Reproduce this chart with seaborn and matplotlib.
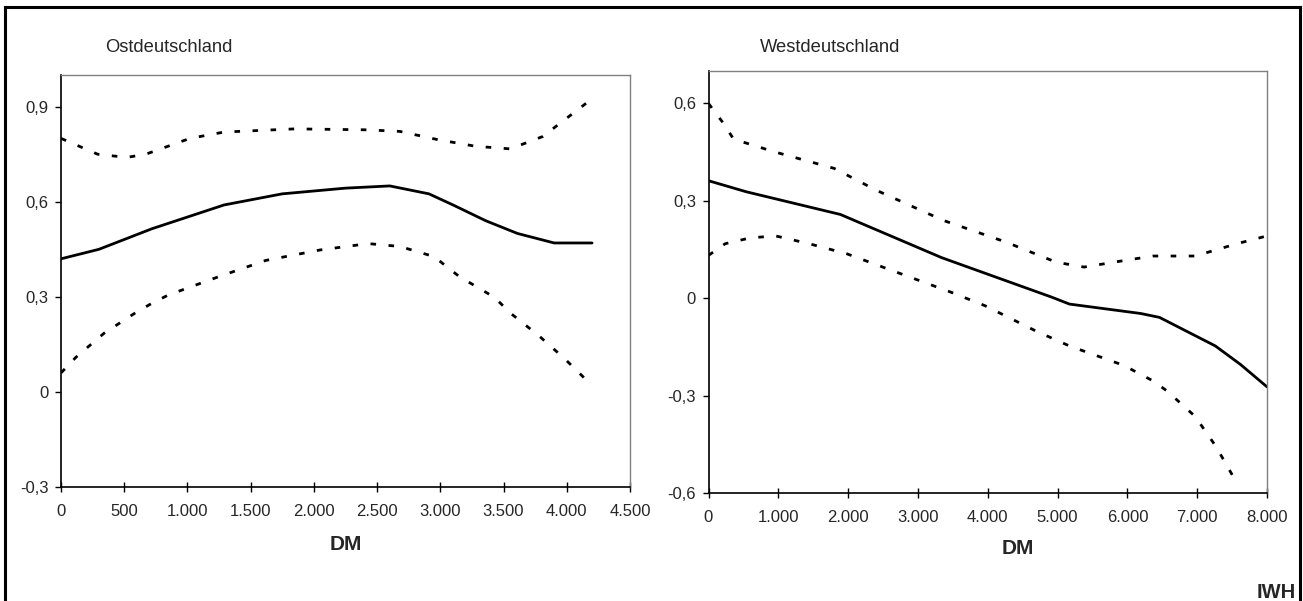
import pandas as pd
import matplotlib
matplotlib.use("Agg")
import matplotlib.pyplot as plt
from matplotlib.lines import Line2D
import seaborn as sns

# Ostdeutschland: estimate and confidence band
ost_x_mid = [0, 300, 720, 1290, 1750, 2250, 2600, 2910, 3100, 3360, 3610, 3900, 4200]
ost_mid = [0.42, 0.45, 0.515, 0.59, 0.625, 0.643, 0.65, 0.625, 0.59, 0.54, 0.50, 0.47, 0.47]
ost_x_up = [0, 290, 520, 670, 1020, 1290, 1850, 2420, 2680, 2980, 3280, 3550, 3660, 3810, 4000, 4200]
ost_up = [0.80, 0.75, 0.74, 0.75, 0.80, 0.82, 0.83, 0.827, 0.822, 0.796, 0.775, 0.767, 0.783, 0.806, 0.864, 0.925]
ost_x_lo = [0, 120, 340, 590, 720, 850, 1250, 1620, 2050, 2430, 2680, 2950, 3150, 3430, 3550, 3780, 3980, 4200]
ost_lo = [0.06, 0.11, 0.185, 0.25, 0.28, 0.306, 0.364, 0.415, 0.448, 0.468, 0.459, 0.427, 0.364, 0.298, 0.25, 0.177, 0.106, 0.02]

# Westdeutschland: estimate and confidence band
west_x_mid = [0, 540, 1890, 3340, 4920, 5170, 6190, 6460, 7260, 7620, 8000]
west_mid = [0.362, 0.328, 0.258, 0.125, 0.003, -0.018, -0.047, -0.059, -0.147, -0.204, -0.273]
west_x_up = [0, 210, 360, 960, 1800, 2400, 3360, 4260, 4980, 5380, 5950, 6370, 6970, 7570, 8000]
west_up = [0.60, 0.54, 0.49, 0.45, 0.40, 0.333, 0.24, 0.173, 0.111, 0.096, 0.116, 0.13, 0.13, 0.168, 0.192]
west_x_lo = [0, 240, 600, 960, 1440, 1980, 2760, 3480, 3960, 4690, 5170, 5950, 6370, 6570, 6970, 7270, 7570]
west_lo = [0.132, 0.168, 0.186, 0.192, 0.168, 0.137, 0.075, 0.018, -0.023, -0.101, -0.147, -0.207, -0.255, -0.286, -0.364, -0.457, -0.57]

# axis ticks and labels
ost_xticks = [0, 500, 1000, 1500, 2000, 2500, 3000, 3500, 4000, 4500]
ost_xlabels = ["0", "500", "1.000", "1.500", "2.000", "2.500", "3.000", "3.500", "4.000", "4.500"]
ost_yticks = [-0.3, 0, 0.3, 0.6, 0.9]
ost_ylabels = ["-0,3", "0", "0,3", "0,6", "0,9"]
west_xticks = [0, 1000, 2000, 3000, 4000, 5000, 6000, 7000, 8000]
west_xlabels = ["0", "1.000", "2.000", "3.000", "4.000", "5.000", "6.000", "7.000", "8.000"]
west_yticks = [-0.6, -0.3, 0, 0.3, 0.6]
west_ylabels = ["-0,6", "-0,3", "0", "0,3", "0,6"]

sns.set_style("white")
plt.rcParams["font.family"] = ["Liberation Sans", "DejaVu Sans"]

W, H = 1303, 601
fig = plt.figure(figsize=(W / 100, H / 100), dpi=100)


def px_axes(x0, y0, x1, y1):
    return fig.add_axes([x0 / W, 1 - y1 / H, (x1 - x0) / W, (y1 - y0) / H])


def draw_panel(ax, mid, up, lo, xlim, ylim, xticks, xlabels, yticks, ylabels):
    dotted = (0, (2, 4.5))
    sns.lineplot(x=mid[0], y=mid[1], ax=ax, color="black", lw=2.0, sort=False, errorbar=None)
    sns.lineplot(x=up[0], y=up[1], ax=ax, color="black", lw=2.0, linestyle=dotted, sort=False, errorbar=None)
    sns.lineplot(x=lo[0], y=lo[1], ax=ax, color="black", lw=2.0, linestyle=dotted, sort=False, errorbar=None)
    ax.set_xlim(*xlim)
    ax.set_ylim(*ylim)
    ax.set_xticks(xticks)
    ax.set_xticklabels(xlabels)
    ax.set_yticks(yticks)
    ax.set_yticklabels(ylabels)
    ax.set_xlabel("")
    ax.set_ylabel("")
    for side in ["left", "bottom"]:
        ax.spines[side].set_color("black")
        ax.spines[side].set_linewidth(1.2)
    for side in ["top", "right"]:
        ax.spines[side].set_color("#808080")
        ax.spines[side].set_linewidth(1.0)
    ax.tick_params(axis="x", direction="inout", length=7, width=1, color="black",
                   labelsize=12, pad=9, bottom=True)
    ax.tick_params(axis="y", direction="out", length=4, width=1, color="black",
                   labelsize=12, pad=5, left=True)


ax1 = px_axes(61, 75, 630, 487)
draw_panel(ax1, (ost_x_mid, ost_mid), (ost_x_up, ost_up), (ost_x_lo, ost_lo),
           (0, 4500), (-0.3, 1.0), ost_xticks, ost_xlabels, ost_yticks, ost_ylabels)

ax2 = px_axes(708.5, 71, 1267, 493)
draw_panel(ax2, (west_x_mid, west_mid), (west_x_up, west_up), (west_x_lo, west_lo),
           (0, 8000), (-0.6, 0.7), west_xticks, west_xlabels, west_yticks, west_ylabels)

# titles and axis captions
fig.text(105 / W, 1 - 47 / H, "Ostdeutschland", fontsize=13.2, ha="left", va="center")
fig.text(760 / W, 1 - 48 / H, "Westdeutschland", fontsize=13.2, ha="left", va="center")
fig.text(346 / W, 1 - 544 / H, "DM", fontsize=15, fontweight="bold", ha="center", va="center")
fig.text(1018 / W, 1 - 548 / H, "DM", fontsize=15, fontweight="bold", ha="center", va="center")
fig.text(1296 / W, 1 - 592 / H, "IWH", fontsize=14.5, fontweight="bold", ha="right", va="center")

# outer frame, open at the bottom
fx0, fx1, fy = 5 / W, 1300 / W, 1 - 7 / H
for xs, ys in [([fx0, fx0], [0, fy]), ([fx0, fx1], [fy, fy]), ([fx1, fx1], [fy, 0])]:
    fig.add_artist(Line2D(xs, ys, transform=fig.transFigure, color="black", lw=2.2,
                          solid_capstyle="projecting"))

fig.savefig("out.png", dpi=100)
